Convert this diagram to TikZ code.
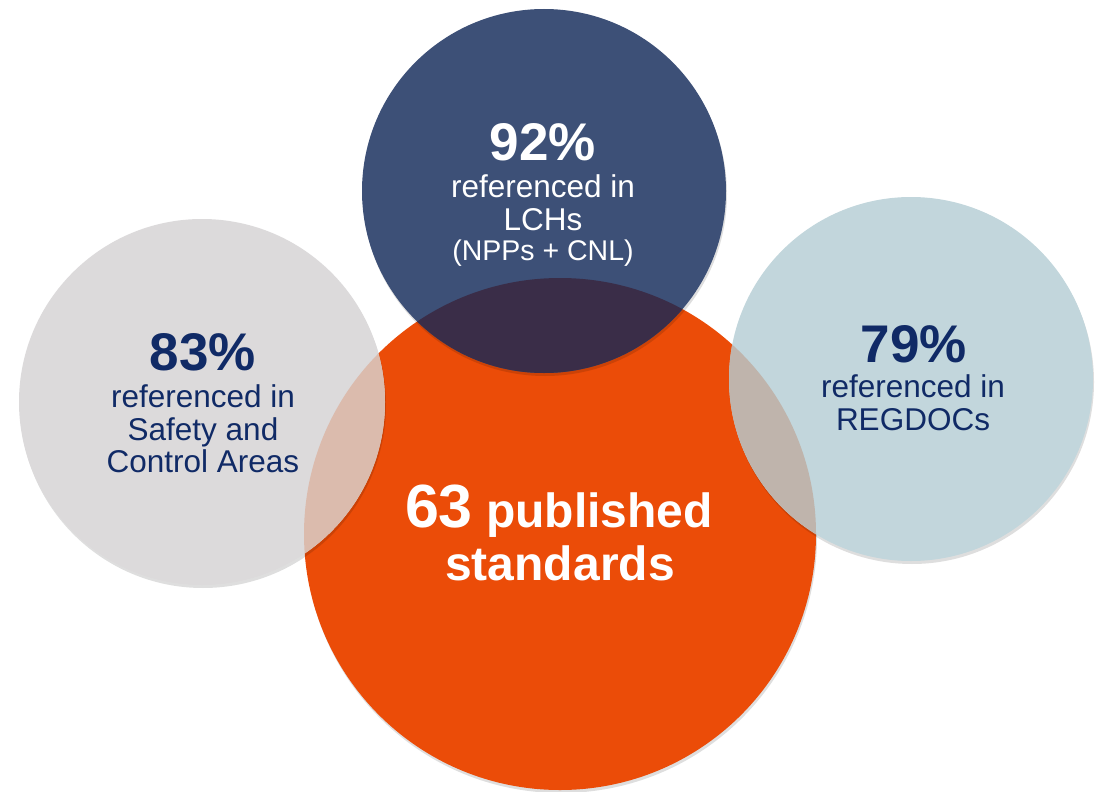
\documentclass[tikz,border=0pt]{standalone}
\usepackage{fontspec}
\setmainfont{Liberation Sans}
\usetikzlibrary{shadows}
\definecolor{orangec}{HTML}{EB4C08}
\definecolor{navyc}{HTML}{3D5077}
\definecolor{greyc}{HTML}{DCDADB}
\definecolor{bluec}{HTML}{C2D6DC}
\definecolor{navyorange}{HTML}{3A2D48}
\definecolor{greyorange}{HTML}{DBBBAD}
\definecolor{blueorange}{HTML}{BFB4AC}
\definecolor{textnavy}{HTML}{102A66}
\tikzset{
  bubble/.style={circle, inner sep=0pt, outer sep=0pt, draw=none,
    drop shadow={shadow xshift=1pt, shadow yshift=-3pt, opacity=0.13, fill=black}},
  pct/.style={anchor=base, inner sep=0pt, font=\fontsize{53}{53}\selectfont\bfseries},
  body/.style={anchor=base, inner sep=0pt, font=\fontsize{31.5}{33}\selectfont},
  small/.style={anchor=base, inner sep=0pt, font=\fontsize{28.5}{30}\selectfont},
  big/.style={anchor=base, inner sep=0pt, font=\fontsize{48}{50}\selectfont\bfseries},
}
\begin{document}
\begin{tikzpicture}[x=1pt,y=-1pt]
\useasboundingbox (0,0) rectangle (1103,792);
% circles
\node[bubble, fill=orangec, minimum size=512pt] (org) at (560,534) {};
\node[bubble, fill=navyc, minimum size=364pt] (nav) at (544,191) {};
\node[bubble, fill=greyc, minimum size=366pt] (gry) at (202,402) {};
\node[bubble, fill=bluec, minimum size=364pt] (blu) at (911,379) {};
% overlaps
\begin{scope}
  \clip (org.center) circle[radius=256];
  \fill[navyorange] (nav.center) circle[radius=182];
  \fill[greyorange] (gry.center) circle[radius=183];
  \fill[blueorange] (blu.center) circle[radius=182];
\end{scope}
% top text
\node[pct, text=white] (t1) at (543,160) {92\%};
\node[body, text=white] (t2) at (543,197) {referenced in};
\node[body, text=white] (t3) at (543,230) {LCHs};
\node[small, text=white] (t4) at (543,260) {(NPPs + CNL)};
% left text
\node[pct, text=textnavy] (l1) at (203,370) {83\%};
\node[body, text=textnavy] (l2) at (203,407) {referenced in};
\node[body, text=textnavy] (l3) at (203,440) {Safety and};
\node[body, text=textnavy] (l4) at (203,472) {Control Areas};
% right text
\node[pct, text=textnavy] (r1) at (914,362) {79\%};
\node[body, text=textnavy] (r2) at (913,397) {referenced in};
\node[body, text=textnavy] (r3) at (913,430) {REGDOCs};
% center text
\node[big, text=white] (c1) at (559,527) {{\fontsize{61}{61}\selectfont 63} published};
\node[big, text=white] (c2) at (560,580) {standards};
\end{tikzpicture}
\end{document}
